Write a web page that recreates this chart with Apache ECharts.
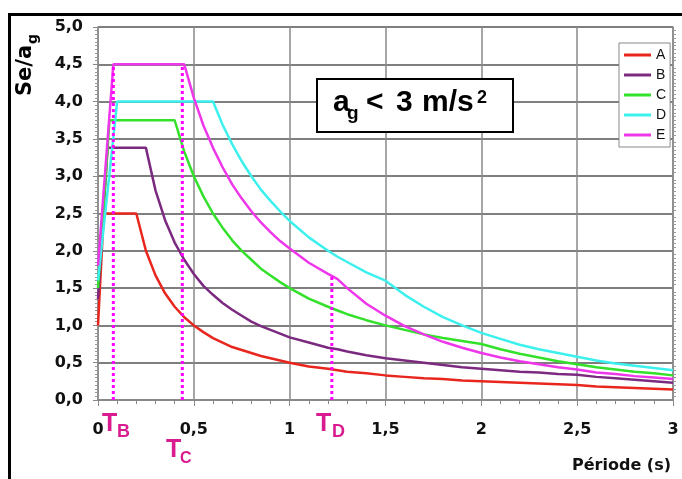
<!DOCTYPE html>
<html>
<head>
<meta charset="UTF-8">
<title>Spectres</title>
<script src="https://cdn.jsdelivr.net/npm/echarts@6/dist/echarts.min.js"></script>
<style>
html, body { margin: 0; padding: 0; background: #fff; }
#main { width: 682px; height: 479px; }
</style>
</head>
<body>
<div id="main"></div>
<script>
// période (s)
var periods = [0, 0.03, 0.05, 0.06, 0.08, 0.1, 0.2, 0.25, 0.3, 0.35, 0.4, 0.45, 0.5, 0.55, 0.6, 0.65, 0.7, 0.75, 0.8, 0.85, 0.9, 0.95,
	1.0, 1.1, 1.2, 1.25, 1.3, 1.4, 1.5, 1.6, 1.7, 1.8, 1.9, 2.0, 2.1, 2.2, 2.3, 2.4, 2.5, 2.6, 2.7, 2.8, 2.9, 3.0];
// Se/ag par classe de sol
var valA = [1.0, 2.5, 2.5, 2.5, 2.5, 2.5, 2.5, 2.0, 1.67, 1.43, 1.25, 1.11, 1.0, 0.91, 0.83, 0.77, 0.71, 0.67, 0.63, 0.59, 0.56, 0.53,
	0.5, 0.45, 0.42, 0.4, 0.38, 0.36, 0.33, 0.31, 0.29, 0.28, 0.26, 0.25, 0.24, 0.23, 0.22, 0.21, 0.2, 0.18, 0.17, 0.16, 0.15, 0.14];
var valB = [1.35, null, 3.38, 3.38, 3.38, 3.38, 3.38, 3.38, 2.81, 2.41, 2.11, 1.88, 1.69, 1.53, 1.41, 1.30, 1.21, 1.13, 1.05, 0.99, 0.94, 0.89,
	0.84, 0.77, 0.70, 0.68, 0.65, 0.60, 0.56, 0.53, 0.50, 0.47, 0.44, 0.42, 0.40, 0.38, 0.37, 0.35, 0.34, 0.31, 0.29, 0.27, 0.25, 0.23];
var valC = [1.5, null, null, 3.75, 3.75, 3.75, 3.75, 3.75, 3.75, 3.75, 3.75, 3.33, 3.0, 2.73, 2.5, 2.31, 2.14, 2.0, 1.88, 1.76, 1.67, 1.58,
	1.5, 1.36, 1.25, 1.2, 1.15, 1.07, 1.0, 0.94, 0.88, 0.83, 0.79, 0.75, 0.68, 0.62, 0.57, 0.52, 0.48, 0.44, 0.41, 0.38, 0.36, 0.33];
var valD = [1.6, null, null, null, null, 4.0, 4.0, 4.0, 4.0, 4.0, 4.0, 4.0, 4.0, 4.0, 4.0, 3.69, 3.43, 3.2, 3.0, 2.82, 2.67, 2.53,
	2.4, 2.18, 2.0, 1.92, 1.85, 1.71, 1.6, 1.41, 1.25, 1.11, 1.0, 0.9, 0.82, 0.74, 0.68, 0.63, 0.58, 0.53, 0.49, 0.46, 0.43, 0.4];
var valE = [1.8, null, null, null, 4.5, 4.5, 4.5, 4.5, 4.5, 4.5, 4.5, 4.5, 4.05, 3.68, 3.38, 3.12, 2.89, 2.7, 2.53, 2.38, 2.25, 2.13,
	2.03, 1.84, 1.69, 1.62, 1.50, 1.29, 1.13, 0.99, 0.88, 0.78, 0.70, 0.63, 0.57, 0.52, 0.48, 0.44, 0.41, 0.37, 0.35, 0.32, 0.30, 0.28];
var names = ['A', 'B', 'C', 'D', 'E'];
var colors = ['#e8261e', '#7b2a80', '#33e02a', '#3cf0ee', '#ee36ea'];
// lignes pointillées TB, TC, TD
var markPeriods = [0.08, 0.44, 1.22];
var markTops = [4.5, 4.5, 1.66];

var allVals = [valA, valB, valC, valD, valE];
var series = [];
for (var i = 0; i < names.length; i++) {
	var pts = [];
	for (var j = 0; j < periods.length; j++) {
		if (allVals[i][j] != null) pts.push([periods[j], allVals[i][j]]);
	}
	series.push({
		name : names[i],
		type : 'line',
		symbol : 'none',
		data : pts,
		lineStyle : { color : colors[i], width : 2.5 },
		itemStyle : { color : colors[i] }
	});
}
for (var k = 0; k < markPeriods.length; k++) {
	series.push({
		type : 'line',
		symbol : 'none',
		z : 5,
		data : [[markPeriods[k], 0], [markPeriods[k], markTops[k]]],
		lineStyle : { color : '#ff00ff', width : 3, type : [3, 3] }
	});
}

var pink = '#d81b8f';
var bold = 'DejaVu Sans';
var arial = 'Liberation Sans';
function txt(x, y, s, size, color, family) {
	return { type : 'text', x : x, y : y, z : 10, style : {
		text : s, fill : color || '#000', font : 'bold ' + size + 'px "' + (family || arial) + '"',
		verticalAlign : 'middle' } };
}

var myChart = echarts.init(document.getElementById('main'));
var option = {
	animation : false,
	backgroundColor : '#fff',
	grid : { left : 98, right : 9, top : 27, bottom : 79, outerBoundsMode : 'none' },
	legend : {
		orient : 'vertical', left : 619, top : 43,
		icon : 'rect',
		itemWidth : 27, itemHeight : 3, itemGap : 4,
		padding : [4, 4, 4, 5],
		borderColor : '#888', borderWidth : 1, backgroundColor : '#fff',
		textStyle : { fontFamily : arial, fontSize : 14, color : '#111', lineHeight : 16 },
		data : names
	},
	xAxis : {
		type : 'value', min : 0, max : 3, interval : 0.5,
		axisLine : { lineStyle : { color : '#888', width : 2 } },
		axisTick : { length : 6, lineStyle : { color : '#888' } },
		minorTick : { show : true, splitNumber : 5, length : 4, lineStyle : { color : '#888' } },
		splitLine : { lineStyle : { color : '#8a8a8a', width : 1.5 } },
		axisLabel : { margin : 22, color : '#111', fontFamily : bold, fontWeight : 'bold', fontSize : 16,
			formatter : function(v) { return String(v).replace('.', ','); } }
	},
	yAxis : [{
		type : 'value', min : 0, max : 5, interval : 0.5,
		axisLine : { show : true, lineStyle : { color : '#888', width : 1.5 } },
		axisTick : { show : true, length : 5, lineStyle : { color : '#888' } },
		minorTick : { show : true, splitNumber : 10, length : 3, lineStyle : { color : '#999' } },
		splitLine : { lineStyle : { color : '#555', width : 1.5 } },
		axisLabel : { margin : 15, color : '#111', fontFamily : bold, fontWeight : 'bold', fontSize : 16,
			formatter : function(v) { return v.toFixed(1).replace('.', ','); } }
	}, {
		type : 'value', min : 0, max : 5, interval : 0.5, position : 'right',
		axisLine : { show : true, lineStyle : { color : '#888', width : 1.5 } },
		axisTick : { show : false },
		minorTick : { show : true, splitNumber : 10, length : 3, lineStyle : { color : '#999' } },
		splitLine : { show : false },
		axisLabel : { show : false }
	}],
	series : series,
	graphic : [
		{ type : 'rect', z : 20, shape : { x : 9.5, y : 14.5, width : 700, height : 500 },
			style : { fill : 'none', stroke : '#000', lineWidth : 3 } },
		// titre axe Y
		{ type : 'group', x : 34, y : 96, rotation : Math.PI / 2, children : [
			{ type : 'text', x : 0, y : -8, style : { text : 'Se/a', fill : '#000', font : 'bold 21px "' + bold + '"', verticalAlign : 'middle' } },
			{ type : 'text', x : 52, y : -1, style : { text : 'g', fill : '#000', font : 'bold 14px "' + bold + '"', verticalAlign : 'middle' } }
		] },
		// cadre ag < 3 m/s2
		{ type : 'rect', z : 10, shape : { x : 317, y : 79, width : 196, height : 53 },
			style : { fill : '#fff', stroke : '#000', lineWidth : 2 } },
		txt(333, 103, 'a', 30),
		txt(347, 114, 'g', 19),
		txt(366, 103, '<', 30),
		txt(396, 103, '3', 30),
		txt(422, 103, 'm/s', 30),
		txt(477, 98, '2', 18),
		// TB, TC, TD
		txt(102, 424, 'T', 25, pink),
		txt(117, 432, 'B', 18, pink),
		txt(166, 450, 'T', 25, pink),
		txt(180, 459, 'C', 16, pink),
		txt(316, 424, 'T', 25, pink),
		txt(332, 432, 'D', 18, pink),
		txt(572, 466, 'Période (s)', 16, '#111', bold)
	]
};
myChart.setOption(option);
</script>
</body>
</html>
